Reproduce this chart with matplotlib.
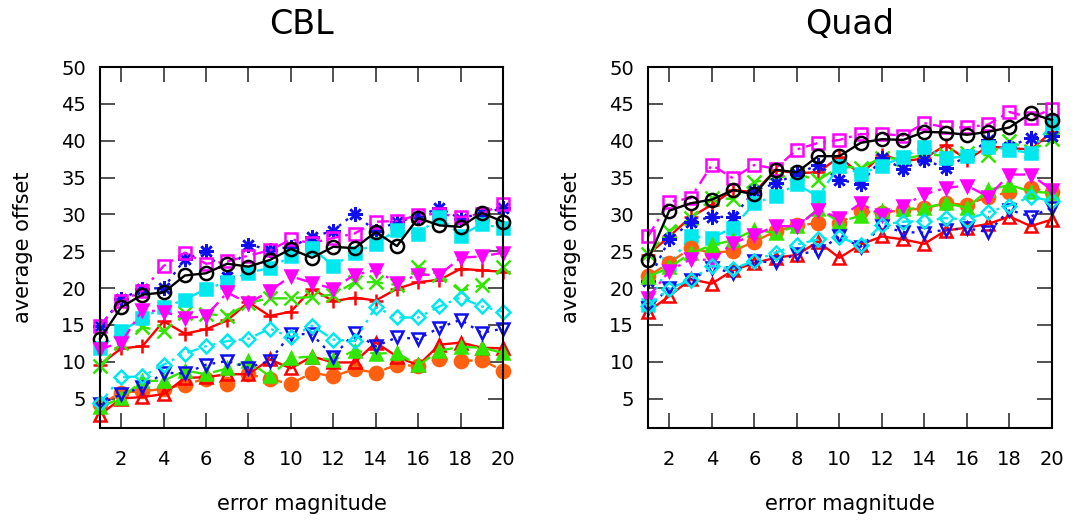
import matplotlib
matplotlib.use("Agg")
import matplotlib.pyplot as plt

x = list(range(1, 21))

# ---- CBL ----
cbl_red_plus = [9.6, 11.8, 12.1, 15.5, 13.8, 14.4, 15.6, 18.1, 16.2, 16.8, 19.9, 18.2, 18.7, 18.3, 19.9, 20.8, 21.1, 22.6, 22.4, 22.2]
cbl_green_x = [9.4, 12.5, 14.7, 14.1, 16.6, 16.5, 16.2, 18.0, 18.6, 18.6, 18.8, 19.1, 20.8, 20.8, 20.4, 22.9, 21.8, 19.6, 20.4, 22.8]
cbl_blue_star = [14.8, 18.5, 19.9, 20.0, 23.9, 25.0, 21.5, 25.9, 25.2, 25.6, 26.9, 27.8, 30.1, 27.7, 29.0, 29.7, 30.9, 29.4, 30.2, 30.8]
cbl_mag_sq = [14.9, 18.2, 19.6, 23.0, 24.8, 23.3, 23.6, 24.4, 25.1, 26.6, 26.1, 26.8, 27.4, 29.0, 29.1, 29.9, 30.1, 29.6, 30.1, 31.4]
cbl_cyan_sq = [11.9, 14.1, 15.9, 17.4, 18.4, 19.9, 20.8, 22.1, 22.7, 24.3, 25.4, 23.0, 24.8, 26.0, 27.9, 27.3, 29.7, 27.1, 28.7, 28.1]
cbl_black_o = [13.1, 17.4, 19.1, 19.4, 21.7, 22.0, 23.3, 22.9, 23.8, 25.3, 24.1, 25.6, 25.4, 27.6, 25.7, 29.5, 28.5, 28.3, 30.2, 29.0]
cbl_orange_o = [4.2, 5.8, 6.0, 6.3, 6.9, 7.7, 7.0, 8.3, 7.6, 7.0, 8.5, 8.0, 9.0, 8.5, 9.6, 9.4, 10.4, 10.1, 10.2, 8.8]
cbl_red_tri = [2.8, 5.0, 5.2, 5.6, 7.8, 7.9, 8.3, 8.3, 10.3, 9.1, 10.7, 9.9, 9.9, 12.6, 10.7, 9.5, 12.3, 12.6, 11.9, 11.8]
cbl_green_tri = [3.8, 5.1, 7.4, 7.4, 8.8, 8.3, 9.1, 10.1, 8.0, 10.5, 10.7, 10.2, 11.5, 11.1, 11.2, 9.5, 11.5, 12.0, 11.9, 11.2]
cbl_blue_vtri = [4.2, 5.6, 6.5, 8.5, 8.4, 9.6, 10.1, 9.2, 10.1, 13.8, 13.7, 10.7, 13.9, 12.1, 13.3, 13.1, 14.6, 15.7, 13.9, 14.5]
cbl_mag_vtri = [11.7, 12.6, 17.0, 16.8, 15.9, 16.2, 19.4, 17.9, 19.6, 21.6, 20.7, 19.9, 21.8, 22.4, 20.7, 21.8, 21.8, 24.1, 24.3, 24.8]
cbl_cyan_dia = [4.4, 7.9, 8.0, 9.6, 11.1, 12.1, 12.8, 13.1, 14.5, 13.3, 14.9, 13.0, 12.8, 17.4, 16.0, 16.0, 17.5, 18.7, 17.5, 16.8]

# ---- Quad ----
quad_red_plus = [24.5, 27.0, 29.6, 31.3, 33.3, 33.0, 36.0, 35.6, 35.7, 37.8, 35.4, 38.1, 37.2, 37.6, 39.4, 37.4, 39.2, 39.0, 38.8, 41.2]
quad_green_x = [24.6, 27.7, 29.5, 32.2, 32.1, 34.4, 34.9, 35.5, 34.6, 36.5, 36.3, 37.7, 37.5, 38.1, 38.0, 38.3, 38.0, 40.0, 38.6, 40.2]
quad_blue_star = [20.9, 26.6, 28.9, 29.7, 29.6, 33.2, 34.2, 35.5, 36.7, 34.7, 34.1, 37.6, 36.2, 37.4, 36.3, 37.9, 40.1, 39.2, 40.4, 40.7]
quad_mag_sq = [27.0, 31.7, 32.2, 36.7, 34.9, 36.7, 36.2, 38.8, 39.7, 40.1, 40.9, 40.9, 40.7, 42.4, 41.8, 41.8, 42.2, 43.9, 43.1, 44.3]
quad_cyan_sq = [17.7, 23.2, 27.0, 26.8, 28.2, 31.5, 32.5, 34.1, 32.4, 36.6, 35.5, 36.6, 37.8, 39.1, 37.6, 37.9, 39.2, 38.8, 38.3, 42.4]
quad_black_o = [23.8, 30.5, 31.5, 32.0, 33.3, 32.7, 36.05, 35.7, 37.9, 37.9, 39.7, 40.2, 40.1, 41.2, 41.1, 40.8, 41.2, 41.8, 43.7, 42.8]
quad_orange_o = [21.6, 23.4, 25.4, 24.8, 25.0, 26.3, 27.7, 28.5, 28.8, 28.8, 30.4, 30.2, 30.6, 30.8, 31.5, 31.3, 32.4, 33.0, 33.6, 33.0]
quad_red_tri = [16.8, 18.9, 21.2, 20.6, 22.4, 23.4, 24.1, 24.5, 26.3, 24.1, 25.9, 27.0, 26.6, 26.0, 27.8, 28.2, 28.7, 29.7, 28.4, 29.3]
quad_green_tri = [21.5, 22.8, 24.7, 25.8, 26.5, 27.9, 27.5, 28.4, 30.7, 29.0, 29.8, 30.5, 30.7, 30.9, 31.5, 30.9, 33.3, 34.0, 33.1, 32.9]
quad_blue_vtri = [17.3, 20.0, 21.1, 22.7, 22.1, 23.6, 23.5, 24.6, 25.0, 27.0, 25.6, 28.4, 27.6, 27.5, 27.9, 28.1, 27.6, 30.6, 29.7, 30.9]
quad_mag_vtri = [18.7, 22.3, 23.9, 23.8, 26.1, 27.2, 28.4, 28.4, 30.6, 29.5, 31.5, 29.9, 31.2, 32.7, 33.6, 33.9, 32.4, 35.4, 35.4, 33.3]
quad_cyan_dia = [17.5, 19.9, 21.1, 23.0, 22.6, 23.7, 24.8, 25.9, 26.6, 26.9, 25.8, 28.6, 29.0, 29.1, 29.5, 29.3, 30.3, 31.2, 32.4, 31.8]

titles = ["CBL", "Quad"]
xticks = list(range(2, 21, 2))
yticks = list(range(5, 51, 5))

RED = "#ff0000"
GREEN = "#33e600"
BLUE = "#1010ee"
MAG = "#ff00ff"
CYAN = "#00e8ee"
BLACK = "#000000"
ORANGE = "#ff6010"

asterisk = (8, 2, 0)
styles = [
    dict(color=RED, ls="-", marker="+", mfc=RED),
    dict(color=GREEN, ls=(0, (7, 3.5)), marker="x", mfc=GREEN),
    dict(color=BLUE, ls=(0, (1.2, 2.5)), marker=asterisk, mfc=BLUE),
    dict(color=MAG, ls=(0, (5, 2.5, 1.2, 2.5)), marker="s", mfc="none"),
    dict(color=CYAN, ls=(0, (5, 2.5, 1.2, 2.5, 1.2, 2.5)), marker="s", mfc=CYAN),
    dict(color=BLACK, ls="-", marker="o", mfc="none"),
    dict(color=ORANGE, ls=(0, (7, 3.5)), marker="o", mfc=ORANGE),
    dict(color=RED, ls="-", marker="^", mfc="none"),
    dict(color=GREEN, ls=(0, (7, 3.5)), marker="^", mfc=GREEN),
    dict(color=BLUE, ls=(0, (1.2, 2.5)), marker="v", mfc="none"),
    dict(color=MAG, ls=(0, (5, 2.5, 1.2, 2.5)), marker="v", mfc=MAG),
    dict(color=CYAN, ls=(0, (5, 2.5, 1.2, 2.5, 1.2, 2.5)), marker="D", mfc="none"),
]

cbl = [cbl_red_plus, cbl_green_x, cbl_blue_star, cbl_mag_sq, cbl_cyan_sq, cbl_black_o,
       cbl_orange_o, cbl_red_tri, cbl_green_tri, cbl_blue_vtri, cbl_mag_vtri, cbl_cyan_dia]
quad = [quad_red_plus, quad_green_x, quad_blue_star, quad_mag_sq, quad_cyan_sq, quad_black_o,
        quad_orange_o, quad_red_tri, quad_green_tri, quad_blue_vtri, quad_mag_vtri, quad_cyan_dia]

plt.rcParams["font.family"] = ["DejaVu Sans"]
fig = plt.figure(figsize=(10.76, 5.24), dpi=100)
H = 524.0
W = 1076.0
boxes = [(100, 503), (648, 1052)]
for i, (data, title) in enumerate(zip([cbl, quad], titles)):
    l, r = boxes[i]
    ax = fig.add_axes([l / W, 1 - 428 / H, (r - l) / W, (428 - 67) / H])
    for s, y in zip(styles, data):
        m = s["marker"]
        ms = 10.5 if m in ("+", "x", asterisk) else 9
        if m == "D":
            ms = 7.5
        if m == "o":
            ms = 9.5
        ax.plot(x, y, color=s["color"], ls=s["ls"], lw=1.7, marker=m,
                mfc=s["mfc"], mec=s["color"], ms=ms, mew=1.8, clip_on=False)
    ax.set_xlim(1, 20)
    ax.set_ylim(1, 50)
    ax.set_xticks(xticks)
    ax.set_yticks(yticks)
    ax.tick_params(direction="in", length=11, width=1.2, top=True, right=True,
                   labelsize=14, color="#333333")
    ax.tick_params(axis="x", pad=16)
    ax.tick_params(axis="y", pad=10)
    for sp in ax.spines.values():
        sp.set_linewidth(1.5)
    ax.set_title(title, fontsize=24, pad=24)
    ax.set_xlabel("error magnitude", fontsize=15, labelpad=18)
    ax.set_ylabel("average offset", fontsize=15, labelpad=20)

fig.savefig("out.png", dpi=100)
